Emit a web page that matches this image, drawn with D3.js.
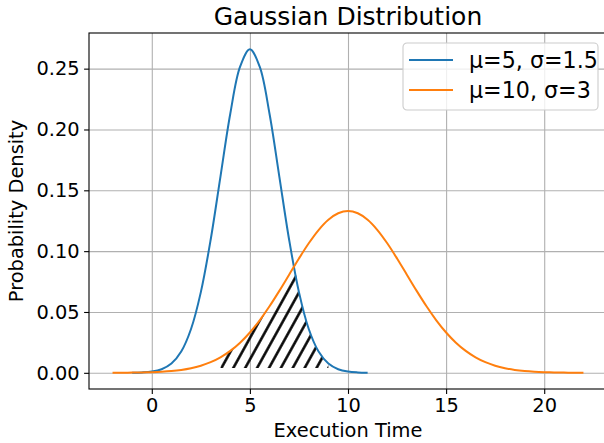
<!DOCTYPE html>
<html>
<head>
<meta charset="utf-8">
<script src="https://cdn.jsdelivr.net/npm/d3@7"></script>
<style>
  body { margin: 0; background: #fff; }
  text { font-family: "DejaVu Sans", sans-serif; fill: #000; }
</style>
</head>
<body>
<div id="graph"></div>
<script>
// curve samples
const blueX = [-1, -0.5, 0, 0.5, 1, 1.5, 2, 2.5, 3, 3.5, 4, 4.5, 5, 5.5, 6, 6.5, 7, 7.5, 8, 8.5, 9, 9.5, 10, 10.5, 11];
const blueY = [0.00009, 0.00032, 0.00103, 0.00295, 0.0076, 0.01748, 0.03599, 0.06632, 0.10934, 0.16131, 0.21297, 0.25159, 0.26596,
  0.25159, 0.21297, 0.16131, 0.10934, 0.06632, 0.03599, 0.01748, 0.0076, 0.00295, 0.00103, 0.00032, 0.00009];

const orangeX = [-2, -1.5, -1, -0.5, 0, 0.5, 1, 1.5, 2, 2.5, 3, 3.5, 4, 4.5, 5, 5.5, 6, 6.5, 7, 7.5, 8, 8.5, 9, 9.5, 10,
  10.5, 11, 11.5, 12, 12.5, 13, 13.5, 14, 14.5, 15, 15.5, 16, 16.5, 17, 17.5, 18, 18.5, 19, 19.5, 20, 20.5, 21, 21.5, 22];
const orangeY = [0.0000446, 0.0000857, 0.00016, 0.000291, 0.000514, 0.000884, 0.001477, 0.002402, 0.003799, 0.005843, 0.008741,
  0.012718, 0.017997, 0.024771, 0.033159, 0.043173, 0.05467, 0.067333, 0.080657, 0.093971, 0.106483, 0.117355, 0.125795, 0.131147,
  0.132981,
  0.131147, 0.125795, 0.117355, 0.106483, 0.093971, 0.080657, 0.067333, 0.05467, 0.043173, 0.033159, 0.024771, 0.017997, 0.012718,
  0.008741, 0.005843, 0.003799, 0.002402, 0.001477, 0.000884, 0.000514, 0.000291, 0.00016, 0.0000857, 0.0000446];

// hatched overlap (min of both curves)
const overlapX = [3.5, 4, 4.5, 5, 5.5, 6, 6.5, 7, 7.25, 7.5, 8, 8.5, 9];
const overlapY = [0.0127, 0.018, 0.0248, 0.0332, 0.0432, 0.0547, 0.0673, 0.0807, 0.0863, 0.0663, 0.036, 0.0175, 0.0076];
const hatchBase = 0.004;

const seriesNames = ["μ=5, σ=1.5", "μ=10, σ=3"];
const xTicks = [0, 5, 10, 15, 20];
const yTicks = [0, 0.05, 0.1, 0.15, 0.2, 0.25];

const w = 604;
const h = 443;
const margin = { top: 33, right: -3, bottom: 54, left: 89 };
const colors = ["#1f77b4", "#ff7f0e"];

const xScale = d3.scaleLinear().domain([-3.2, 23.2]).range([margin.left, w - margin.right]);
const yScale = d3.scaleLinear().domain([-0.0133, 0.2793]).range([h - margin.bottom, margin.top]);

const svg = d3.select("#graph").append("svg").attr("width", w).attr("height", h);

// grid
svg.append("g")
  .attr("transform", `translate(0, ${h - margin.bottom})`)
  .call(d3.axisBottom(xScale).tickValues(xTicks).tickSize(-(h - margin.top - margin.bottom)).tickFormat(""))
  .call(g => g.select(".domain").remove())
  .selectAll("line").attr("stroke", "#b0b0b0").attr("stroke-width", 1.1);

svg.append("g")
  .attr("transform", `translate(${margin.left}, 0)`)
  .call(d3.axisLeft(yScale).tickValues(yTicks).tickSize(-(w - margin.left - margin.right)).tickFormat(""))
  .call(g => g.select(".domain").remove())
  .selectAll("line").attr("stroke", "#b0b0b0").attr("stroke-width", 1.1);

// hatch pattern
const hx = xScale(3.55), hy = yScale(hatchBase);
const pat = svg.append("defs").append("pattern")
  .attr("id", "hatch")
  .attr("patternUnits", "userSpaceOnUse")
  .attr("width", 10.4).attr("height", 10)
  .attr("x", -5.2).attr("y", 0)
  .attr("patternTransform", `translate(${hx}, ${hy}) rotate(29)`);
pat.append("line")
  .attr("x1", 5.2).attr("x2", 5.2).attr("y1", -1).attr("y2", 11)
  .attr("stroke", "#000").attr("stroke-width", 2.5);

const overlap = overlapX.map((x, i) => [x, overlapY[i]]);
svg.append("path")
  .datum(overlap)
  .attr("fill", "url(#hatch)")
  .attr("d", d3.area()
    .x(d => xScale(d[0]))
    .y0(yScale(hatchBase))
    .y1(d => yScale(Math.max(d[1], hatchBase)))
    .curve(d3.curveMonotoneX));

// curves
const line = d3.line().x(d => xScale(d[0])).y(d => yScale(d[1])).curve(d3.curveCatmullRom);
const series = [
  blueX.map((x, i) => [x, blueY[i]]),
  orangeX.map((x, i) => [x, orangeY[i]])
];
series.forEach((s, i) => {
  svg.append("path").datum(s)
    .attr("fill", "none")
    .attr("stroke", colors[i])
    .attr("stroke-width", 2)
    .attr("d", line);
});

// axes
const xAxis = svg.append("g")
  .attr("transform", `translate(0, ${h - margin.bottom})`)
  .call(d3.axisBottom(xScale).tickValues(xTicks).tickSize(4.9).tickPadding(4.5).tickFormat(d3.format("d")));
const yAxis = svg.append("g")
  .attr("transform", `translate(${margin.left}, 0)`)
  .call(d3.axisLeft(yScale).tickValues(yTicks).tickSize(4.9).tickPadding(4.5).tickFormat(d3.format(".2f")));
[xAxis, yAxis].forEach(g => {
  g.selectAll("text").style("font-size", "19.4px").attr("fill", "#000");
  g.selectAll("line").attr("stroke", "#000").attr("stroke-width", 1.1);
  g.select(".domain").remove();
});

// frame
svg.append("rect")
  .attr("x", margin.left).attr("y", margin.top)
  .attr("width", w - margin.left - margin.right)
  .attr("height", h - margin.top - margin.bottom)
  .attr("fill", "none").attr("stroke", "#000").attr("stroke-width", 1.1);

// titles
const cx = (margin.left + w - margin.right) / 2;
svg.append("text").attr("x", cx).attr("y", 25)
  .attr("text-anchor", "middle").style("font-size", "25px").text("Gaussian Distribution");
svg.append("text").attr("x", cx).attr("y", 437)
  .attr("text-anchor", "middle").style("font-size", "19.4px").text("Execution Time");
svg.append("text")
  .attr("transform", `translate(23, ${(margin.top + h - margin.bottom) / 2}) rotate(-90)`)
  .attr("text-anchor", "middle").style("font-size", "19.4px").text("Probability Density");

// legend
const legend = svg.append("g").attr("id", "legend").attr("transform", "translate(403, 43)");
legend.append("rect")
  .attr("width", 195).attr("height", 67).attr("rx", 4)
  .attr("fill", "#fff").attr("fill-opacity", 0.8)
  .attr("stroke", "#cccccc").attr("stroke-width", 1.1);
seriesNames.forEach((name, i) => {
  const y = 17 + i * 30;
  legend.append("line").attr("x1", 6).attr("x2", 50).attr("y1", y).attr("y2", y)
    .attr("stroke", colors[i]).attr("stroke-width", 2);
  legend.append("text").attr("x", 66).attr("y", y).attr("dy", "0.36em")
    .style("font-size", "22.2px").text(name);
});
</script>
</body>
</html>
